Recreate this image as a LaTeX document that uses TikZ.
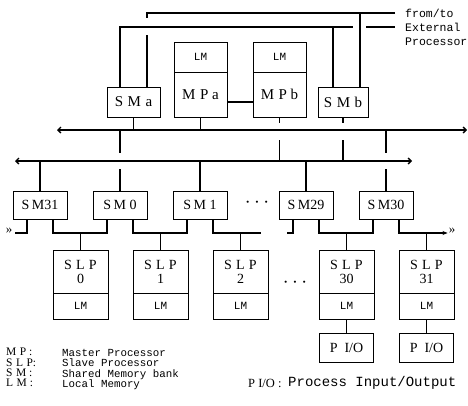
\documentclass[tikz,border=0pt]{standalone}
\usepackage{fontspec}
\setmainfont{Liberation Serif}
\newfontfamily\dotfont{Liberation Mono}
\usetikzlibrary{arrows.meta,positioning,calc}
\newcommand{\gp}{\hspace{0.3em}}
\tikzset{
  wire/.style={line width=1.2pt},
  bus/.style={line width=1.3pt, {Straight Barb[length=3pt,width=6pt]}-{Straight Barb[length=3pt,width=6pt]}},
  smbox/.style={draw, line width=0.9pt, outer sep=0pt, inner sep=0pt,
                minimum width=53pt, minimum height=30pt, font=\fontsize{15}{16}\selectfont},
  lmbox/.style={draw, line width=0.9pt, outer sep=0pt, inner sep=0pt,
                minimum width=53pt, minimum height=30pt, font=\dotfont\fontsize{11}{12}\selectfont},
  mpbox/.style={smbox, minimum height=45pt},
  smrow/.style={draw, line width=0.9pt, outer sep=0pt, inner sep=0pt,
                minimum width=54pt, minimum height=28pt, font=\fontsize{14}{14}\selectfont},
  slpbox/.style={smrow, minimum width=55pt, minimum height=43pt, align=center},
  lmslp/.style={lmbox, minimum width=55pt, minimum height=26pt},
  piobox/.style={smrow, minimum width=54pt, minimum height=29pt, font=\fontsize{14}{15}\selectfont},
  dots/.style={font=\bfseries\fontsize{13}{15}\selectfont},
  wrap/.style={inner sep=0pt, font=\fontsize{13}{15}\selectfont},
  extxt/.style={anchor=west, inner sep=0pt, font=\dotfont\fontsize{11.5}{13}\selectfont},
  keyt/.style={anchor=north west, inner sep=0pt, align=left, font=\fontsize{11.5}{10.4}\selectfont},
  keyd/.style={anchor=north west, inner sep=0pt, align=left, font=\dotfont\fontsize{10.8}{10.4}\selectfont},
}

\begin{document}
\begin{tikzpicture}[x=1pt, y=-1pt]
  \path[fill=white] (0,0) rectangle (468,405);
  \useasboundingbox (0,0) rectangle (468,405);

  % master side
  \node[smbox] (sma) at (133.5,102) {S\gp M\gp a};
  \node[lmbox] (lma) at (200.5,57) {LM};
  \node[mpbox, below=0pt of lma] (mpa) {M\gp P\ a};
  \node[lmbox] (lmb) at (279.5,57) {LM};
  \node[mpbox, below=0pt of lmb] (mpb) {M\gp P\ b};
  \node[smbox, minimum width=50pt] (smb) at (343,102) {S\gp M\gp b};
  \draw[wire] ([yshift=-7.5pt]mpa.east) -- ([yshift=-7.5pt]mpb.west);

  % lines to the external processor
  \coordinate (xa) at (395,13);
  \coordinate (xb) at (395,27);
  \coordinate (sal) at ([xshift=-13.5pt]sma.north);
  \coordinate (sar) at ([xshift=13.5pt]sma.north);
  \coordinate (sbl) at ([xshift=-10pt]smb.north);
  \coordinate (sbr) at ([xshift=17pt]smb.north);
  \draw[wire] (xa) -| ($(sar)+(0,-69)$);
  \draw[wire] ($(sar)+(0,-52)$) -- (sar);
  \draw[wire] (sbr) |- (xa);
  \draw[wire] (sal) |- ($(sbr |- xb)+(-7,0)$);
  \draw[wire] ($(sbr |- xb)+(6,0)$) -- (xb);
  \draw[wire] (sbl) -- (sbl |- xb);
  \node[extxt] (ext1) at (405,13) {from/to};
  \node[extxt] (ext2) at (405,27.5) {External};
  \node[extxt] (ext3) at (405,42) {Processor};

  % the two buses
  \coordinate (ta) at (57,130);
  \coordinate (tb) at (467,130);
  \coordinate (ba) at (15,161);
  \coordinate (bb) at (412,161);
  \draw[bus] (ta) -- (tb);
  \draw[bus] (ba) -- (bb);
  \draw[wire] (sma.south) -- (sma.south |- ta);
  \draw[wire] (mpa.south) -- (mpa.south |- ta);
  \draw[wire] (mpb.south) -- ++(0,6);
  \draw[wire] ($(mpb.south |- ta)+(0,10)$) -- (mpb.south |- ba);
  \draw[wire] (smb.south) -- ++(0,6);
  \draw[wire] ($(smb.south |- ta)+(0,10)$) -- (smb.south |- ba);

  % shared memory banks
  \node[smrow] (sm31) at (40,205) {S\,M31};
  \node[smrow] (sm0) at (120,205) {S\,M\ 0};
  \node[smrow] (sm1) at (200,205) {S\,M\ 1};
  \node[smrow] (sm29) at (306,205) {S\,M29};
  \node[smrow] (sm30) at (386,205) {S\,M30};
  \node[dots] (dsm) at (257,204) {·\hspace{5pt}·\hspace{5pt}·};
  \draw[wire] (sm31.north) -- (sm31.north |- ba);
  \draw[wire] (sm0.north |- ta) -- ++(0,23);
  \draw[wire] (sm0.north) -- ++(0,-22);
  \draw[wire] (sm1.north) -- (sm1.north |- ba);
  \draw[wire] (sm29.north) -- (sm29.north |- ba);
  \draw[wire] (sm30.north |- ta) -- ++(0,23);
  \draw[wire] (sm30.north) -- ++(0,-22);

  % slave processors
  \node[slpbox] (slp0) at (80.5,271.5) {S\gp L\gp P\\0};
  \node[lmslp, below=0pt of slp0] (lm0) {LM};
  \node[slpbox] (slp1) at (160.5,271.5) {S\gp L\gp P\\1};
  \node[lmslp, below=0pt of slp1] (lm1) {LM};
  \node[slpbox] (slp2) at (240.5,271.5) {S\gp L\gp P\\2};
  \node[lmslp, below=0pt of slp2] (lm2) {LM};
  \node[slpbox] (slp30) at (346.5,271.5) {S\gp L\gp P\\30};
  \node[lmslp, below=0pt of slp30] (lm30) {LM};
  \node[slpbox] (slp31) at (426.5,271.5) {S\gp L\gp P\\31};
  \node[lmslp, below=0pt of slp31] (lm31) {LM};
  \node[dots] (dslp) at (295,284) {·\hspace{5pt}·\hspace{5pt}·};
  \node[piobox, below=14pt of lm30] (pio30) {P\ \ I/O};
  \node[piobox, below=14pt of lm31] (pio31) {P\ \ I/O};
  \draw[wire] (lm30.south) -- (pio30.north);
  \draw[wire] (lm31.south) -- (pio31.north);

  % banks to slaves
  \node[wrap] (wl) at (9,231) {»};
  \node[wrap] (wr) at (452,231) {»};
  \coordinate (u0) at ($(slp0.north)+(0,-17)$);
  \coordinate (u1) at ($(slp1.north)+(0,-17)$);
  \coordinate (u2) at ($(slp2.north)+(0,-17)$);
  \coordinate (u30) at ($(slp30.north)+(0,-17)$);
  \coordinate (u31) at ($(slp31.north)+(0,-17)$);
  \draw[wire] ([xshift=-13pt]sm31.south) |- ($(wl.east)+(3,2)$);
  \draw[wire] ([xshift=13pt]sm31.south) |- (u0) -| ([xshift=-13pt]sm0.south);
  \draw[wire] ([xshift=13pt]sm0.south) |- (u1) -| ([xshift=-13pt]sm1.south);
  \draw[wire] ([xshift=13pt]sm1.south) |- ($(u2)+(20,0)$);
  \draw[wire] ([xshift=-13pt]sm29.south) -- ++(0,14) -- ++(-6,0);
  \draw[wire] ([xshift=13pt]sm29.south) |- (u30) -| ([xshift=-13pt]sm30.south);
  \draw[wire, -{Stealth[length=5pt,width=4pt]}] ([xshift=13pt]sm30.south) |- ($(wr.west)+(-1,2)$);
  \draw[wire] (u0) -- (slp0.north);
  \draw[wire] (u1) -- (slp1.north);
  \draw[wire] (u2) -- (slp2.north);
  \draw[wire] (u30) -- (slp30.north);
  \draw[wire] (u31) -- (slp31.north);

  % legend
  \node[keyt] (keys) at (6,348) {M\gp P\ :\\S\gp L\gp P:\\S\gp M\ :\\L\gp M\ :};
  \node[keyd] (desc) at (62,349) {Master Processor\\Slave Processor\\Shared Memory bank\\Local Memory};
  \node[keyt, anchor=west, font=\fontsize{12.5}{14}\selectfont] (kpio) at (248,383) {P\ I/O :};
  \node[keyd, anchor=west, font=\dotfont\fontsize{14}{16}\selectfont] (tpio) at (288,383) {Process Input/Output};
\end{tikzpicture}
\end{document}
